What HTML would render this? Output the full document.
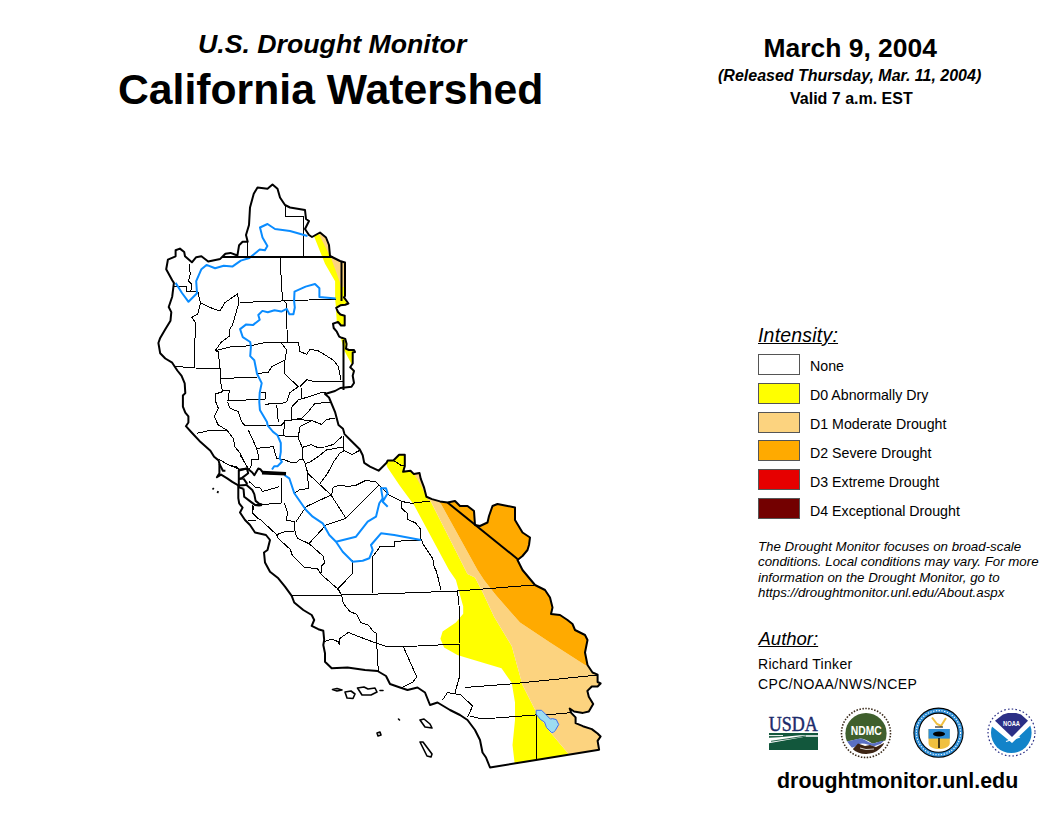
<!DOCTYPE html>
<html><head><meta charset="utf-8"><style>
html,body{margin:0;padding:0;background:#fff;}
body{width:1056px;height:816px;position:relative;overflow:hidden;font-family:"Liberation Sans",sans-serif;color:#000;}
.t{position:absolute;white-space:nowrap;line-height:1;}
.lg{left:810px;font-size:14.2px;}
.box{position:absolute;left:758px;width:40px;height:19px;border:1px solid #555;}
</style></head><body>
<svg width="1056" height="816" viewBox="0 0 1056 816" style="position:absolute;left:0;top:0">
<defs><clipPath id="cp"><path d="M272.5,184.5 L277.5,188.75 L280,197.5 L285,205 L290,207.5 L305,210 L306,219 L309,221 L305,229 L309,235 L312,237 L320,232.5 L326,237.5 L329,245 L330,256 L336,259 L340,261 L345,262.5 L345,296 L344,297.4 L346.6,301 L348.4,303.5 L345.3,304.7 L340.4,305.3 L336.2,307.8 L338,312 L340.4,314.5 L344.7,315.7 L344.7,325.5 L341,325.5 L338,321.9 L333,323.7 L333.7,328 L336.8,331.7 L339.2,336.6 L341.7,337.8 L345.3,339 L346.6,344 L346,348.8 L349,350 L354,350 L355,352 L352.7,352.5 L352.7,363.5 L350.2,367.2 L354,370.9 L352.7,375.8 L354,383 L351.5,386.8 L340.4,388 L335,391 L325,394 L329,397.5 L335.2,412.4 L338.5,425 L343,428.8 L344.5,434.1 L350.6,440.2 L359.7,449.2 L362.7,455.3 L364.2,462.9 L370,466.7 L378.6,470.7 L386.6,462.7 L387.7,460.5 L393.4,460.5 L399.1,454.8 L404.8,454.8 L404.8,466.1 L403.1,471.8 L410.5,470.7 L413.9,474.1 L419.5,473 L420.7,478.6 L424.1,487.7 L426.4,496.8 L432,499.1 L440,501.4 L447.5,502.5 L455,501 L460,506 L467.5,506 L474,511 L475,525 L480,526 L487.5,522.5 L489,516 L492.5,506 L497.5,504 L507.5,506 L515,507.5 L515,520 L522.5,532.5 L530,537.5 L529,545 L527.5,550 L522.5,556 L517.5,560 L520,565 L522.5,570 L535,585 L545,590 L550,597.5 L552.5,607.5 L551,614 L560,615 L567.5,620 L572.5,624 L575,630 L585,635 L587.5,640 L585,652.5 L587.5,665 L592.5,672.5 L597.6,674.7 L597.6,682 L600.6,683.5 L597.6,686.5 L591.8,686.5 L587.4,690.9 L588.8,696.8 L593.2,704.1 L588.8,711.5 L582.9,712.9 L574.1,711.5 L569.7,708.5 L571.2,712.9 L575.6,717.4 L575.6,723.2 L582.9,726.2 L591.8,729.1 L597.6,733.5 L600.6,736.5 L597.6,740.9 L599.1,749.7 L536,760 L490,767.5 L489,765 L486,757.5 L482.5,752.5 L480,740 L475,730 L467.5,720 L460,715 L450,710 L437.5,702.5 L430,705 L425,692.5 L417.5,687.5 L407.5,690 L400,687.5 L390,684 L386,676 L377.5,671 L365,670 L347.5,667.5 L331.7,668.3 L325,661.7 L325,653.3 L323.3,645 L324.2,640 L323.3,630.8 L318.3,629.2 L311.7,625.8 L314.2,620 L311.7,615 L303.3,610 L294.2,602.5 L291.7,595.8 L285,586.7 L278.3,578.3 L270,571.7 L265,562.5 L264,552.5 L267.5,550 L270,540 L266,535 L255,532.5 L250,525 L245,520 L240,512.5 L242.6,507.6 L239.2,503.3 L238.3,498.2 L238.3,485.3 L232.3,481.9 L227.2,478.4 L221.1,474.6 L216.9,477.2 L219.4,473.3 L219.4,463.9 L218.6,460.4 L214.1,456.8 L210.4,450.7 L200.6,442.1 L191.4,432.3 L185.9,426.2 L188.4,422.5 L188.4,416.4 L185.3,412.7 L182.9,406.6 L182.9,395.5 L185.3,393.1 L184.7,383.3 L181.6,375.9 L177.3,370.5 L172.2,362.7 L165.3,358.5 L160.2,353.3 L158.4,343 L160.2,337.9 L165.3,329.3 L170.5,320.7 L171.3,312.1 L168.7,307 L172.2,296.7 L173.9,282.9 L172.2,280.3 L166.2,269.2 L167.9,259.7 L175.6,256.3 L175.6,250.3 L179.9,248.6 L184.2,252 L185,256.3 L191.9,262.3 L196.2,257.2 L201.4,256.3 L208.2,261.5 L220.2,258.9 L225.4,253.7 L230.5,252.9 L237.4,255.5 L239.1,245.2 L242.6,241.7 L247.7,241.7 L246,235 L249,225 L250,207.5 L253.75,193.75 L257.5,187.5 L267.5,188.75 Z"/></clipPath></defs>
<path d="M272.5,184.5 L277.5,188.75 L280,197.5 L285,205 L290,207.5 L305,210 L306,219 L309,221 L305,229 L309,235 L312,237 L320,232.5 L326,237.5 L329,245 L330,256 L336,259 L340,261 L345,262.5 L345,296 L344,297.4 L346.6,301 L348.4,303.5 L345.3,304.7 L340.4,305.3 L336.2,307.8 L338,312 L340.4,314.5 L344.7,315.7 L344.7,325.5 L341,325.5 L338,321.9 L333,323.7 L333.7,328 L336.8,331.7 L339.2,336.6 L341.7,337.8 L345.3,339 L346.6,344 L346,348.8 L349,350 L354,350 L355,352 L352.7,352.5 L352.7,363.5 L350.2,367.2 L354,370.9 L352.7,375.8 L354,383 L351.5,386.8 L340.4,388 L335,391 L325,394 L329,397.5 L335.2,412.4 L338.5,425 L343,428.8 L344.5,434.1 L350.6,440.2 L359.7,449.2 L362.7,455.3 L364.2,462.9 L370,466.7 L378.6,470.7 L386.6,462.7 L387.7,460.5 L393.4,460.5 L399.1,454.8 L404.8,454.8 L404.8,466.1 L403.1,471.8 L410.5,470.7 L413.9,474.1 L419.5,473 L420.7,478.6 L424.1,487.7 L426.4,496.8 L432,499.1 L440,501.4 L447.5,502.5 L455,501 L460,506 L467.5,506 L474,511 L475,525 L480,526 L487.5,522.5 L489,516 L492.5,506 L497.5,504 L507.5,506 L515,507.5 L515,520 L522.5,532.5 L530,537.5 L529,545 L527.5,550 L522.5,556 L517.5,560 L520,565 L522.5,570 L535,585 L545,590 L550,597.5 L552.5,607.5 L551,614 L560,615 L567.5,620 L572.5,624 L575,630 L585,635 L587.5,640 L585,652.5 L587.5,665 L592.5,672.5 L597.6,674.7 L597.6,682 L600.6,683.5 L597.6,686.5 L591.8,686.5 L587.4,690.9 L588.8,696.8 L593.2,704.1 L588.8,711.5 L582.9,712.9 L574.1,711.5 L569.7,708.5 L571.2,712.9 L575.6,717.4 L575.6,723.2 L582.9,726.2 L591.8,729.1 L597.6,733.5 L600.6,736.5 L597.6,740.9 L599.1,749.7 L536,760 L490,767.5 L489,765 L486,757.5 L482.5,752.5 L480,740 L475,730 L467.5,720 L460,715 L450,710 L437.5,702.5 L430,705 L425,692.5 L417.5,687.5 L407.5,690 L400,687.5 L390,684 L386,676 L377.5,671 L365,670 L347.5,667.5 L331.7,668.3 L325,661.7 L325,653.3 L323.3,645 L324.2,640 L323.3,630.8 L318.3,629.2 L311.7,625.8 L314.2,620 L311.7,615 L303.3,610 L294.2,602.5 L291.7,595.8 L285,586.7 L278.3,578.3 L270,571.7 L265,562.5 L264,552.5 L267.5,550 L270,540 L266,535 L255,532.5 L250,525 L245,520 L240,512.5 L242.6,507.6 L239.2,503.3 L238.3,498.2 L238.3,485.3 L232.3,481.9 L227.2,478.4 L221.1,474.6 L216.9,477.2 L219.4,473.3 L219.4,463.9 L218.6,460.4 L214.1,456.8 L210.4,450.7 L200.6,442.1 L191.4,432.3 L185.9,426.2 L188.4,422.5 L188.4,416.4 L185.3,412.7 L182.9,406.6 L182.9,395.5 L185.3,393.1 L184.7,383.3 L181.6,375.9 L177.3,370.5 L172.2,362.7 L165.3,358.5 L160.2,353.3 L158.4,343 L160.2,337.9 L165.3,329.3 L170.5,320.7 L171.3,312.1 L168.7,307 L172.2,296.7 L173.9,282.9 L172.2,280.3 L166.2,269.2 L167.9,259.7 L175.6,256.3 L175.6,250.3 L179.9,248.6 L184.2,252 L185,256.3 L191.9,262.3 L196.2,257.2 L201.4,256.3 L208.2,261.5 L220.2,258.9 L225.4,253.7 L230.5,252.9 L237.4,255.5 L239.1,245.2 L242.6,241.7 L247.7,241.7 L246,235 L249,225 L250,207.5 L253.75,193.75 L257.5,187.5 L267.5,188.75 Z" fill="#fff"/>
<g clip-path="url(#cp)">
<polygon points="314.2,236.8 325,263.8 335.1,281.3 335.1,298.8 335.8,306 336,310 337,325 340,335 344,350 351,363 353,373 370,373 370,230 312,230" fill="#ffff00"/>
<polygon points="384,458 387.5,467.5 400,486 414,505 449,570 455.9,580 463.2,606.5 463.2,613.8 455.9,622.6 442.6,631.5 440.4,638.8 444.1,647.6 457.4,655 464.7,657.2 501.5,668.2 511.8,683 512.5,687.5 515,702.5 515,720 512.5,745 516,775 572,775 568.2,753.4 550,732 535.9,711.5 522.5,685 511.8,646.2 503,631.5 494.1,616.8 482.4,591.8 475,577.5 467.5,574 430,500 420,470 400,440" fill="#ffff00"/>
<polygon points="412,470 421,470 421,478 416,478" fill="#fcd37f"/>
<polygon points="415,475 422,476 426,490 428,498 432,501 428,500 421,486" fill="#fcd37f"/>
<polygon points="319.4,235.1 329.7,255.7 331.4,259.1 339.8,282 341,287 360,287 360,230 317,230" fill="#fcd37f"/>
<polygon points="410,470 420,470 430,500 467.5,574 475,577.5 482.4,591.8 494.1,616.8 503,631.5 511.8,646.2 522.5,685 535.9,711.5 550,732 568.2,753.4 572,775 620,775 620,665 585,665 550,642.5 520,622.6 495.6,594.7 484,580 477.5,570 441,504 436,490 425,465 410,465" fill="#fcd37f"/>
<polygon points="441,504 477.5,570 484,580 495.6,594.7 520,622.6 550,642.5 585,665 620,665 620,480 438,480 438,500" fill="#ffaa00"/>
</g>
<g fill="none" stroke="#000" stroke-width="1" stroke-linejoin="round" shape-rendering="crispEdges">
<polyline points="393.4,460.5 401.4,465.5 404.8,466.1"/>
<polyline points="247.7,241.7 247.7,256.5"/>
<polyline points="285,205 285,216 303.75,216 304,257"/>
<polyline points="280,257.5 282.5,300 286,302.5 287.5,342.5"/>
<polyline points="240,302.5 336,299"/>
<polyline points="189.3,264 190.2,274.3 188.5,281.2 191.9,284.6 191,290.6"/>
<polyline points="197.9,291.5 200.5,303.5 197.9,313.8 191.9,317.3 195.3,322.4 194.5,367"/>
<polyline points="175,366.3 195,368 220,368.7"/>
<polyline points="173.9,286.4 186.8,286.4 186.8,291.5 197.9,291.5"/>
<polyline points="200,302.5 210,307.5 220,311 225,302.5 237.5,294 239,302.5 232.5,325 229.2,330 230,335.8 221.7,341.7 215,350.8 218.3,351.7 220,368.3 220,378.3 222.5,391.7 215,394.2 215,400 218.3,408.3 214.2,416.7 218.3,425 226.7,430 233.3,438.3 235,446.7 240,453.3 247.5,468"/>
<polyline points="215,350.8 231.7,346.7 250,345.8 265,342.5 281.7,342.5 298.3,342.5 300,351.7 306.7,354.2 310,349.2 318.3,350.8 325,355 333.3,360 338.3,366.7 341,380"/>
<polyline points="281.7,343.3 286.7,350 285,360 271.7,366.7 268.3,372.5 258.3,373.3"/>
<polyline points="220.8,378.3 256.7,377.5"/>
<polyline points="285,360 284.2,373.3 298.3,386.7 290,392.5 286.7,401.7 281.7,403.3 265,404.2"/>
<polyline points="300,386.7 306.9,379.8 314.6,381.5 343.5,381.5"/>
<polyline points="301.7,388.3 301.7,398.3"/>
<polyline points="227.5,400.8 265,399.2 265.8,392.5 260.8,392.5"/>
<polyline points="222.5,390.8 229.2,390.8 228.3,400.8"/>
<polyline points="227.5,401.7 230,408.3 238.3,411.7 241.7,421.7 245,425.8 266.7,425 281.7,425 285,421.7 283.3,435"/>
<polyline points="276.7,405 278.3,421.7"/>
<polyline points="291.7,406.7 291.7,420 301.7,418.3 308.3,411.7 314.6,403.8 328.4,402.1 331.8,402"/>
<polyline points="291.7,406.7 298.3,400 321.7,392.5 328.3,393.3"/>
<polyline points="283.7,421 297.5,419.3 312.9,421 321.5,424.4 326.7,419.3 335.2,418.4"/>
<polyline points="196.7,433.3 208.3,430.8 226.7,430"/>
<polyline points="248.3,430 256.7,448.3 259,459 251.6,459.7 250.9,467.1 249,469"/>
<polyline points="256.7,448.3 273.3,446.7 276.7,458.3 285,460 290,462.1 296.8,462.1 299.8,459.1 302.9,459.1"/>
<polyline points="278.3,435.8 297.6,436.4 302.1,447 302.9,459.1 305.2,463.6 307.4,472 308.5,488.3 299.3,490 294.3,493.3"/>
<polyline points="298.3,436.7 300,426.7 311.7,420.8"/>
<polyline points="302.5,447.3 311.2,444.7 317.3,447.3 324.8,447 333.9,444.3 337,440.9 342.3,436.4"/>
<polyline points="343.4,436.4 343.4,450"/>
<polyline points="305.2,463.6 309.7,462.1 318.8,456.1 326.4,450 343,447 343.4,450 352.1,454.5 358.2,451.1 360,450.5"/>
<polyline points="307.7,473.3 331,495 346,518.3"/>
<polyline points="344.5,450.8 340,453 333.9,461.4 327.1,474.2 320.2,483.3"/>
<polyline points="331.5,495.7 333.2,487.2 338.4,485.5 348.7,486.3 355.5,485.5 365.8,480.3 376.1,482 379.6,485.5 389.3,495 402.7,501.7 412,503.3 430,501"/>
<polyline points="331,495 306,506.7 296,521.7"/>
<polyline points="281,478.3 281,503.3 252.7,505 252.7,513.3 257.7,518.3 260.9,520 276.6,534.7 284.4,531.8 294.2,531.8"/>
<polyline points="284.3,503.3 287.7,513.3 286,520 294.3,521.7 295.2,533.3 297.7,538.3 309.2,543.8 322.9,555.8 324.6,562.7 321.2,566.1 321.2,573"/>
<polyline points="309.3,543.3 326,525 346,518.3 379.3,485"/>
<polyline points="247.7,520 256,520"/>
<polyline points="276.6,534.7 278.5,538.6 290.3,549.4 292.3,555.3 304,567 317.7,569 321.7,574.9 337.4,588.6 341.3,594.5"/>
<polyline points="248.9,481.3 255.6,487.4 259.7,487.4 262.4,491.4 270,489.4 279.3,486.7"/>
<polyline points="240.1,455 247.5,467.1"/>
<polyline points="230,465.1 237.4,467.1 238.8,469.8"/>
<polyline points="219.4,459.6 229.7,465.6 239.2,469"/>
<polyline points="253.6,505.6 253.6,510"/>
<polyline points="372.7,556.7 377.7,550 380,546.2 394.7,546.2 394.7,541.3 420.4,540"/>
<polyline points="352.7,560 352.7,573.3 338.3,588.3 341.7,595"/>
<polyline points="372.7,556.7 372.5,593.3"/>
<polyline points="402,501.4 401.4,508.2 407,513 407,519.2 415.5,522.9 420.4,529 421,538.8 422.9,543.7 432.7,558.4 434,565.8 437.6,575.6 441,590"/>
<polyline points="291.7,595.8 341.7,595 373.3,594.2 457.5,591 534,585"/>
<polyline points="341.7,595 343.3,603.3 350,611.7 356.7,614.2 360.8,622.5 368.3,625 373.3,631.7 376.7,633.3 376.7,643.3 378.3,670.8"/>
<polyline points="323.3,641.7 331.7,639.2 338.3,641.7 339.2,644.2 340,638.3 348.3,632.5 356.7,635.8 376.7,643.3 386.7,646.7 403.3,646.7 459,644"/>
<polyline points="403.3,646.7 416.7,676.7 413.3,681.7 401.7,687.5"/>
<polyline points="457.5,591 460,615 459,644 460,675 455,692.5"/>
<polyline points="465,687.5 510,684 597.5,675"/>
<polyline points="461,695 472.5,706 467.5,717.5"/>
<polyline points="447.5,692.5 442.5,700"/>
<polyline points="447.5,692.5 461,695"/>
<polyline points="470,716 482.5,719 535,715 546,714 556,714 572.5,712.5"/>
<polyline points="536,715 536,760"/>
<polyline points="436,570 441,590"/>
</g>
<g fill="none" stroke="#0a8cff" stroke-width="2" stroke-linejoin="round">
<polyline points="175.6,282.9 182,293 188.5,301.8 197,293.2 196.2,281.2 201.4,269.2 206.5,264.9 215.1,268.3 223.7,265.8 232.3,266.6 240.8,260.6 249.4,258 254.6,253.7 259.7,249.4 264.9,250.3 267.4,246 262.5,237.5 260,227.5 267.5,224 275,229 290,231 307.5,236"/>
<polyline points="335.7,298.6 319.4,296.9 319.4,288.3 315,284 305.6,286.6 294.5,291.7 294.1,300.8 294.8,307.5 293.4,314.3 289.4,314.3 286.7,308.9 281.3,311.6 274.5,310.2 267.8,312.3 262.4,310.9 258.3,315 259.7,319.7 252.9,325.1 246.2,324.4 240.1,329.1 242.8,337.2 250.2,342 250.9,346.7 250.2,356.1 254.3,360.2 257,373.7 261.7,383.1 259.7,392.6 259.3,402.1 259.9,409.9 267,422 267.6,425.3 273.1,431.9 277.5,435.3 280.8,443 280.8,451.8 279.7,458.4 281.9,461.7 277.5,466.2 274.2,466.2 272,469.5"/>
<polyline points="284.3,475 289.3,478.3 294.3,493.3 306,510 312.7,516.7 322.7,523.3 329.3,535 336,541.7 342.7,551.7 352.7,561.7 362.7,560.8 369.3,558.3 372.7,550 371,545 381,533.3 394.2,535 421,540"/>
<polyline points="336,541.7 356,536.7 367.7,521.7 376,516.7 379.3,503.3 382.7,498.3 381,488.3 386,488.3 387.7,493.3 382.7,501.7 387.7,506.7"/>
</g>
<polygon points="536.2,710.3 541.6,710.3 550.4,719.1 552.4,718.6 556.3,719.6 558.7,724.5 555.3,730.4 553.3,732.4 551.4,732.4 546.5,727.5 544.5,722 540.6,719.6 536.2,714.2" fill="#9ddcf0" stroke="#3a6ef0" stroke-width="1"/>
<g fill="none" stroke="#000" stroke-width="2" stroke-linejoin="round">
<path d="M272.5,184.5 L277.5,188.75 L280,197.5 L285,205 L290,207.5 L305,210 L306,219 L309,221 L305,229 L309,235 L312,237 L320,232.5 L326,237.5 L329,245 L330,256 L336,259 L340,261 L345,262.5 L345,296 L344,297.4 L346.6,301 L348.4,303.5 L345.3,304.7 L340.4,305.3 L336.2,307.8 L338,312 L340.4,314.5 L344.7,315.7 L344.7,325.5 L341,325.5 L338,321.9 L333,323.7 L333.7,328 L336.8,331.7 L339.2,336.6 L341.7,337.8 L345.3,339 L346.6,344 L346,348.8 L349,350 L354,350 L355,352 L352.7,352.5 L352.7,363.5 L350.2,367.2 L354,370.9 L352.7,375.8 L354,383 L351.5,386.8 L340.4,388 L335,391 L325,394 L329,397.5 L335.2,412.4 L338.5,425 L343,428.8 L344.5,434.1 L350.6,440.2 L359.7,449.2 L362.7,455.3 L364.2,462.9 L370,466.7 L378.6,470.7 L386.6,462.7 L387.7,460.5 L393.4,460.5 L399.1,454.8 L404.8,454.8 L404.8,466.1 L403.1,471.8 L410.5,470.7 L413.9,474.1 L419.5,473 L420.7,478.6 L424.1,487.7 L426.4,496.8 L432,499.1 L440,501.4 L447.5,502.5 L455,501 L460,506 L467.5,506 L474,511 L475,525 L480,526 L487.5,522.5 L489,516 L492.5,506 L497.5,504 L507.5,506 L515,507.5 L515,520 L522.5,532.5 L530,537.5 L529,545 L527.5,550 L522.5,556 L517.5,560 L520,565 L522.5,570 L535,585 L545,590 L550,597.5 L552.5,607.5 L551,614 L560,615 L567.5,620 L572.5,624 L575,630 L585,635 L587.5,640 L585,652.5 L587.5,665 L592.5,672.5 L597.6,674.7 L597.6,682 L600.6,683.5 L597.6,686.5 L591.8,686.5 L587.4,690.9 L588.8,696.8 L593.2,704.1 L588.8,711.5 L582.9,712.9 L574.1,711.5 L569.7,708.5 L571.2,712.9 L575.6,717.4 L575.6,723.2 L582.9,726.2 L591.8,729.1 L597.6,733.5 L600.6,736.5 L597.6,740.9 L599.1,749.7 L536,760 L490,767.5 L489,765 L486,757.5 L482.5,752.5 L480,740 L475,730 L467.5,720 L460,715 L450,710 L437.5,702.5 L430,705 L425,692.5 L417.5,687.5 L407.5,690 L400,687.5 L390,684 L386,676 L377.5,671 L365,670 L347.5,667.5 L331.7,668.3 L325,661.7 L325,653.3 L323.3,645 L324.2,640 L323.3,630.8 L318.3,629.2 L311.7,625.8 L314.2,620 L311.7,615 L303.3,610 L294.2,602.5 L291.7,595.8 L285,586.7 L278.3,578.3 L270,571.7 L265,562.5 L264,552.5 L267.5,550 L270,540 L266,535 L255,532.5 L250,525 L245,520 L240,512.5 L242.6,507.6 L239.2,503.3 L238.3,498.2 L238.3,485.3 L232.3,481.9 L227.2,478.4 L221.1,474.6 L216.9,477.2 L219.4,473.3 L219.4,463.9 L218.6,460.4 L214.1,456.8 L210.4,450.7 L200.6,442.1 L191.4,432.3 L185.9,426.2 L188.4,422.5 L188.4,416.4 L185.3,412.7 L182.9,406.6 L182.9,395.5 L185.3,393.1 L184.7,383.3 L181.6,375.9 L177.3,370.5 L172.2,362.7 L165.3,358.5 L160.2,353.3 L158.4,343 L160.2,337.9 L165.3,329.3 L170.5,320.7 L171.3,312.1 L168.7,307 L172.2,296.7 L173.9,282.9 L172.2,280.3 L166.2,269.2 L167.9,259.7 L175.6,256.3 L175.6,250.3 L179.9,248.6 L184.2,252 L185,256.3 L191.9,262.3 L196.2,257.2 L201.4,256.3 L208.2,261.5 L220.2,258.9 L225.4,253.7 L230.5,252.9 L237.4,255.5 L239.1,245.2 L242.6,241.7 L247.7,241.7 L246,235 L249,225 L250,207.5 L253.75,193.75 L257.5,187.5 L267.5,188.75 Z"/>
<polyline points="222,257 333,257"/>
<polyline points="343.5,340 343.5,390"/>
<polyline points="341.5,261 341.5,301"/>
<polyline points="447.5,502.5 517.5,559"/>
<polyline points="238.8,469.8 247.5,468.5 252.3,472.5 254.3,475.2 258.3,468.5 260.3,469.2 262.4,471.9 270,473.2 285.5,473.3"/>
<polyline points="238.9,470.5 246.9,468.5 248.2,473.2 242.1,477.9 238.9,479"/>
<polyline points="238.8,469.8 238.8,487.4"/>
<polyline points="243.5,478.6 246.9,483.3 246.2,484.7"/>
<polyline points="246.2,484.7 252.3,490 254.3,494.1 255.6,500.9 259,503.6 262,504.5"/>
<polyline points="243.5,488.7 244.2,496.8 249.6,500.9 254.9,504.9 259,505.6 262,505"/>
<polyline points="238.8,487.4 243.5,488.7"/>
<polyline points="238.8,479 243.5,478.6"/>
<polyline points="238.8,485.5 246,485"/>
<polyline points="219.4,463.9 222.9,470.7 225.4,470.7"/>
<polyline points="262,472.6 286,473.8" stroke-width="3.6"/>
<polyline points="212.5,488.3 213.8,489.3"/>
<polyline points="217,491.7 218.6,492.5"/>
<polygon points="332.5,689.5 337,688.5 342,690 337,691" stroke-width="1.6"/>
<polygon points="345,692 351,691 355,694 353,698.5 347,698" stroke-width="1.6"/>
<polygon points="357.5,688 364,687 368,689 375,688 377,692 371,695 362,695" stroke-width="1.6"/>
<polygon points="380,690.5 383,690.5" stroke-width="1.6"/>
<polygon points="420,720 424,719 430,724 432,728 425,727" stroke-width="1.6"/>
<polygon points="420,742 423,742 432,754 431,757 427,756" stroke-width="1.6"/>
<polygon points="377,733 380,732 381,735 378,736" stroke-width="1.6"/>
<polygon points="398.5,719 399.5,720" stroke-width="1.6"/>
</g>
</svg>
<div class="t" style="left:198px;top:31px;font-size:26.7px;font-weight:bold;font-style:italic">U.S. Drought Monitor</div>
<div class="t" style="left:118px;top:67.5px;font-size:42.7px;font-weight:bold">California Watershed</div>
<div class="t" style="left:763.5px;top:35.2px;font-size:26.45px;font-weight:bold">March 9, 2004</div>
<div class="t" style="left:718px;top:67.5px;font-size:16px;font-weight:bold;font-style:italic">(Released Thursday, Mar. 11, 2004)</div>
<div class="t" style="left:790px;top:91px;font-size:16px;font-weight:bold">Valid 7 a.m. EST</div>
<div class="t" style="left:758px;top:326px;font-size:19.5px;font-style:italic;text-decoration:underline;letter-spacing:0.2px">Intensity:</div>
<div class="box" style="top:354px;background:#fff"></div>
<div class="box" style="top:383px;background:#ffff00"></div>
<div class="box" style="top:411.5px;background:#fcd37f"></div>
<div class="box" style="top:440px;background:#ffaa00"></div>
<div class="box" style="top:469px;background:#e60000"></div>
<div class="box" style="top:498px;background:#730000"></div>
<div class="t lg" style="top:359px">None</div>
<div class="t lg" style="top:388px">D0 Abnormally Dry</div>
<div class="t lg" style="top:417px">D1 Moderate Drought</div>
<div class="t lg" style="top:446px">D2 Severe Drought</div>
<div class="t lg" style="top:475px">D3 Extreme Drought</div>
<div class="t lg" style="top:504px">D4 Exceptional Drought</div>
<div class="t" style="left:758px;top:539px;font-size:13.3px;font-style:italic;line-height:15.3px">The Drought Monitor focuses on broad-scale<br>conditions. Local conditions may vary. For more<br>information on the Drought Monitor, go to<br>https://droughtmonitor.unl.edu/About.aspx</div>
<div class="t" style="left:758.5px;top:630px;font-size:18.5px;font-style:italic;text-decoration:underline">Author:</div>
<div class="t" style="left:758px;top:657px;font-size:14px;letter-spacing:0.3px">Richard Tinker</div>
<div class="t" style="left:758px;top:677px;font-size:14px;letter-spacing:0.4px">CPC/NOAA/NWS/NCEP</div>
<div class="t" style="left:777px;top:771px;font-size:21.4px;font-weight:bold">droughtmonitor.unl.edu</div>

<svg width="1056" height="816" viewBox="0 0 1056 816" style="position:absolute;left:0;top:0">
<!-- USDA -->
<text x="768.8" y="730.8" font-family="Liberation Serif" font-size="20.5" fill="#1b2a6b" stroke="#1b2a6b" stroke-width="0.45" textLength="49" lengthAdjust="spacingAndGlyphs">USDA</text>
<rect x="769" y="733" width="49" height="17" fill="#12573c"/>
<polygon points="769,737.8 779,737.3 800,735.3 818,735.3 818,736.7 805,736.7 769,743.2" fill="#fff"/>
<path d="M769,735.6 H783" stroke="#fff" stroke-width="1"/>
<path d="M771,741.3 L806,736" stroke="#12573c" stroke-width="0.9"/>
<!-- NDMC -->
<circle cx="866" cy="733" r="24.5" fill="none" stroke="#3a2a1a" stroke-width="1.6" stroke-dasharray="1.5 1.5"/>
<clipPath id="ndc"><circle cx="866" cy="733.5" r="20.6"/></clipPath>
<g clip-path="url(#ndc)">
<rect x="845" y="712" width="42" height="44" fill="#fff"/>
<path d="M845,712 H887 V740.7 L884,740.7 C878,742 874,743.4 872.3,743.4 C868,741 864,738.6 860.6,738.6 C856,739.5 850,741.4 845,741.4 Z" fill="#3f5f2d"/>
<path d="M846.9,741.4 C852,741 857,738.6 860.6,738.6 C865,739 869,743.4 872.3,743.4 C876,743 880,741 884,740.7 L880.6,744.1 C877,745 875,746.2 873.7,746.2 C869,745 866,743.5 862,743.5 C858,744 855,747.6 851.7,747.6 Z" fill="#5a70c4"/>
<path d="M852,750 L858,743.5 L865,746 L870,745 L876,747 L884,743 L887,752 L856,755 Z" fill="#3d2414"/><path d="M860,748 L866,749.5 L874,749" stroke="#fff" stroke-width="0.8" fill="none"/>
</g>
<text x="866.3" y="734.5" font-family="Liberation Sans" font-weight="bold" font-size="13" fill="#fff" text-anchor="middle" textLength="31" lengthAdjust="spacingAndGlyphs">NDMC</text>
<!-- DOC -->
<circle cx="938.5" cy="732.7" r="24.6" fill="#2e8fd8" stroke="#000" stroke-width="1.1"/>
<circle cx="938.5" cy="732.7" r="22.1" fill="none" stroke="#fff" stroke-width="1.1" stroke-dasharray="1.3 1.5"/>
<circle cx="938.5" cy="732.7" r="19.6" fill="#fff" stroke="#000" stroke-width="1.1"/>
<path d="M928.5,729 H949.8 V743 C949.8,747 944,749 939,749 C934,749 928.5,747 928.5,743 Z" fill="#f0c040"/>
<rect x="928.5" y="729" width="21.3" height="9.6" fill="#2e8fd8"/>
<ellipse cx="939" cy="734" rx="6" ry="2.5" fill="#000"/>
<path d="M939,738 V748" stroke="#000" stroke-width="1.4"/>
<path d="M932,717.5 L937,724 L941,726 L946,718" stroke="#f0c040" stroke-width="2" fill="none"/>
<path d="M935,727 L943,727" stroke="#000" stroke-width="1"/>
<!-- NOAA -->
<circle cx="1011.5" cy="732.5" r="23.5" fill="none" stroke="#2b2f86" stroke-width="1.2" stroke-dasharray="1.6 2.2"/>
<clipPath id="noc"><circle cx="1011.3" cy="732.8" r="20.3"/></clipPath>
<g clip-path="url(#noc)">
<path d="M989,724 L1012,743 L1033,723 L1033,760 L989,760 Z" fill="#1283c9"/>
</g>
<polygon points="995,720.8 1003,714.5 1008,713 1016,713 1021,714.5 1028,720.8 1012,737" fill="#2b2f86"/>
<text x="1011.5" y="725.8" font-family="Liberation Sans" font-weight="bold" font-size="7" fill="#fff" text-anchor="middle" textLength="17" lengthAdjust="spacingAndGlyphs">NOAA</text>
<path d="M1006,741.5 L1020,737" stroke="#fff" stroke-width="1.2"/>
</svg>

</body></html>
